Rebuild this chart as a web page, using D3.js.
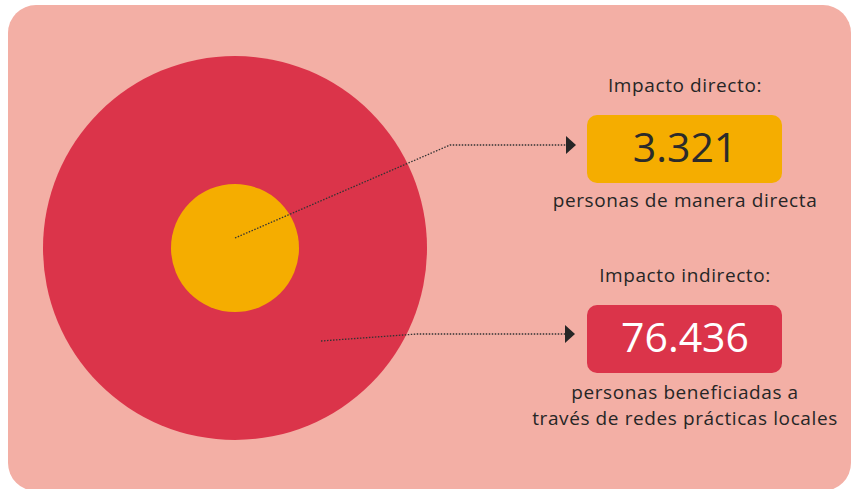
<!DOCTYPE html>
<html>
<head>
<meta charset="utf-8">
<script src="https://cdn.jsdelivr.net/npm/d3@7"></script>
<style>
  html, body { margin: 0; padding: 0; background: #ffffff; }
  svg { display: block; }
  text { font-family: "Open Sans", "Noto Sans", sans-serif; fill: #262626; }
</style>
</head>
<body>
<svg id="chart" width="853" height="489"></svg>
<script>
// Impact rings: inner = direct, outer = indirect
var categories = ["directo", "indirecto"];
var values = [3321, 76436];
var titles = ["Impacto directo:", "Impacto indirecto:"];
var captions = [
  ["personas de manera directa"],
  ["personas beneficiadas a", "través de redes prácticas locales"]
];

var W = 853, H = 489;
var svg = d3.select("#chart");

// colours per category
var fill = d3.scaleOrdinal().domain(categories).range(["#f5ad00", "#db344a"]);
var numFill = d3.scaleOrdinal().domain(categories).range(["#2b2b2b", "#ffffff"]);
// ring radius is by rank, not by value (the picture is not to scale)
var ringR = d3.scaleLinear().domain([0, 1]).range([64, 192]);
// vertical slot for each label block
var slotY = d3.scaleOrdinal().domain(categories).range([92, 282]);

var cx = 235, cy = 248;
var boxX = 587, boxW = 195, boxH = 68, labelX = 685;

// panel background
svg.append("rect")
  .attr("x", 8).attr("y", 5)
  .attr("width", W - 10).attr("height", H - 3)
  .attr("rx", 28).attr("ry", 28)
  .attr("fill", "#f3afa5");

// arrow marker
svg.append("defs").append("marker")
  .attr("id", "arrow")
  .attr("viewBox", "0 0 10 18")
  .attr("refX", 0).attr("refY", 9)
  .attr("markerWidth", 10).attr("markerHeight", 18)
  .attr("markerUnits", "userSpaceOnUse")
  .attr("orient", "auto")
  .append("path")
    .attr("d", "M0,0 L10,9 L0,18 Z")
    .attr("fill", "#262626");

// rings, outer first so the inner one sits on top
var rings = categories.map(function(c, i) { return { cat: c, idx: i }; }).reverse();
svg.selectAll("circle.ring")
  .data(rings)
  .enter().append("circle")
    .attr("class", "ring")
    .attr("cx", cx).attr("cy", cy)
    .attr("r", function(d) { return ringR(d.idx); })
    .attr("fill", function(d) { return fill(d.cat); });

// leader lines: start inside each ring, bend, run to the box
var leaders = [
  { from: [cx, cy - 10], bend: [450, 145], to: [566, 145] },
  { from: [321, 341], bend: [417, 334], to: [565, 334] }
];
svg.selectAll("path.leader")
  .data(leaders)
  .enter().append("path")
    .attr("class", "leader")
    .attr("d", function(d) { return d3.line()([d.from, d.bend, d.to]); })
    .attr("fill", "none")
    .attr("stroke", "#333")
    .attr("stroke-width", 1.3)
    .attr("stroke-dasharray", "1.5,1.5")
    .attr("marker-end", "url(#arrow)");

// label blocks
var fmt = function(v) { return d3.format(",")(v).replace(/,/g, "."); };

var blocks = svg.selectAll("g.block")
  .data(categories)
  .enter().append("g")
    .attr("class", "block")
    .attr("transform", function(c) { return "translate(0," + slotY(c) + ")"; });

blocks.append("text")
  .attr("x", labelX).attr("y", 0)
  .attr("text-anchor", "middle")
  .style("font-size", "19px")
  .style("letter-spacing", "0.6px")
  .text(function(c, i) { return titles[i]; });

blocks.append("rect")
  .attr("x", boxX).attr("y", 23)
  .attr("width", boxW).attr("height", boxH)
  .attr("rx", 10).attr("ry", 10)
  .attr("fill", function(c) { return fill(c); });

blocks.append("text")
  .attr("x", labelX).attr("y", 70)
  .attr("text-anchor", "middle")
  .style("font-size", "41px")
  .style("fill", function(c) { return numFill(c); })
  .text(function(c, i) { return fmt(values[i]); });

blocks.each(function(c, i) {
  d3.select(this).selectAll("text.caption")
    .data(captions[i])
    .enter().append("text")
      .attr("class", "caption")
      .attr("x", labelX)
      .attr("y", function(d, j) { return (i === 0 ? 115 : 117) + j * 26; })
      .attr("text-anchor", "middle")
      .style("font-size", "19px")
      .style("letter-spacing", "0.6px")
      .text(function(d) { return d; });
});
</script>
</body>
</html>
